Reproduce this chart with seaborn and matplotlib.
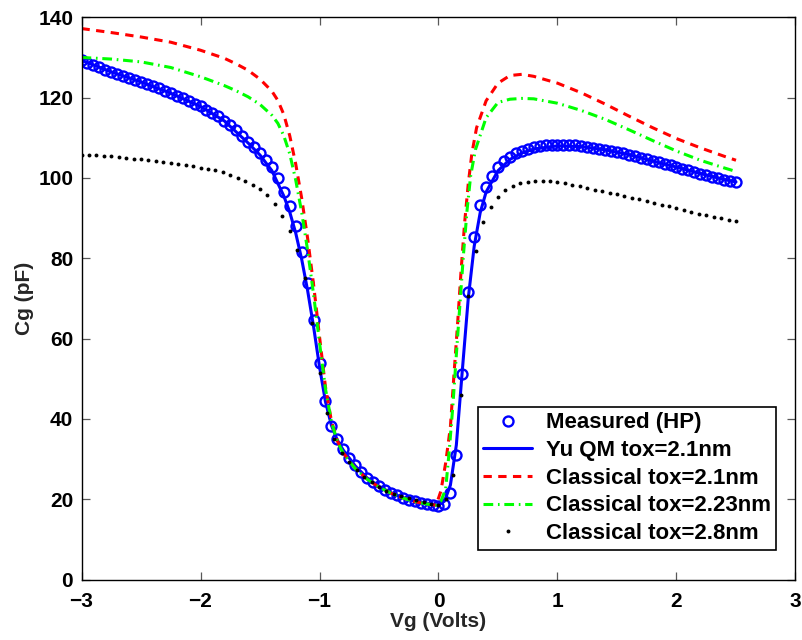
import numpy as np
import pandas as pd
import matplotlib
matplotlib.use("Agg")
import matplotlib.pyplot as plt
import seaborn as sns

# Gate voltage grid of the HP measurement (0.05 V steps from -3 V to 2.5 V)
measured_cg = [
    129.3, 128.7, 128.1, 127.5, 126.9, 126.4, 125.9, 125.4, 124.9, 124.4,
    123.9, 123.4, 122.9, 122.3, 121.7, 121.1, 120.5, 119.9, 119.2, 118.5,
    117.8, 117.0, 116.2, 115.3, 114.3, 113.2, 111.9, 110.5, 109.0, 107.6,
    106.1, 104.5, 102.6, 99.9, 96.6, 93.0, 88.0, 81.5, 73.8, 64.5,
    54.0, 44.4, 38.3, 35.0, 32.6, 30.3, 28.4, 26.8, 25.4, 24.2,
    23.2, 22.3, 21.6, 21.0, 20.4, 19.9, 19.5, 19.1, 18.8, 18.5,
    18.4, 18.8, 21.5, 31.0, 51.2, 71.6, 85.2, 93.2, 97.8, 100.6,
    102.6, 104.2, 105.3, 106.1, 106.7, 107.2, 107.6, 107.9, 108.1, 108.2,
    108.3, 108.3, 108.2, 108.1, 107.9, 107.7, 107.5, 107.3, 107.0, 106.7,
    106.4, 106.1, 105.8, 105.4, 105.0, 104.7, 104.3, 103.9, 103.5, 103.1,
    102.7, 102.3, 101.9, 101.5, 101.1, 100.7, 100.3, 99.9, 99.6, 99.3,
    99.1,
]
measured_vg = np.linspace(-3.0, 2.5, len(measured_cg))

# Yu quantum-mechanical model, tox = 2.1 nm
yu_vg = [-3.0, -2.75, -2.5, -2.25, -2.0, -1.8, -1.6, -1.5, -1.4, -1.3,
         -1.25, -1.2, -1.15, -1.1, -1.05, -1.0, -0.95, -0.9, -0.85, -0.8,
         -0.7, -0.6, -0.5, -0.4, -0.3, -0.2, -0.1, 0.0, 0.05, 0.1,
         0.15, 0.2, 0.25, 0.3, 0.35, 0.4, 0.5, 0.6, 0.7, 0.8,
         1.0, 1.2, 1.4, 1.6, 1.8, 2.0, 2.2, 2.4, 2.5]
yu_cg = [129.3, 126.4, 123.9, 121.1, 117.8, 114.2, 108.7, 105.7, 101.8, 95.5,
         91.5, 86.3, 79.8, 72.0, 63.0, 53.0, 44.3, 38.4, 34.7, 32.2,
         28.3, 25.3, 23.2, 21.6, 20.4, 19.5, 18.8, 18.5, 19.5, 23.5,
         33.5, 52.0, 70.0, 83.0, 91.3, 96.5, 101.8, 104.6, 106.2, 107.2,
         108.0, 107.8, 107.0, 105.8, 104.2, 102.7, 101.1, 99.6, 99.0]

# Classical model, tox = 2.1 nm
cl21_vg = [-3.0, -2.75, -2.5, -2.25, -2.0, -1.8, -1.7, -1.6, -1.5, -1.4,
           -1.35, -1.3, -1.25, -1.2, -1.15, -1.1, -1.05, -1.0, -0.95, -0.9,
           -0.85, -0.8, -0.7, -0.6, -0.5, -0.4, -0.3, -0.2, -0.1, -0.02,
           0.02, 0.06, 0.1, 0.13, 0.16, 0.19, 0.22, 0.25, 0.28, 0.32,
           0.4, 0.5, 0.6, 0.7, 0.8, 1.0, 1.2, 1.4, 1.6, 1.8,
           2.0, 2.2, 2.4, 2.5]
cl21_cg = [137.2, 136.2, 135.1, 133.8, 131.8, 129.8, 128.4, 126.8, 124.6, 121.6,
           119.3, 115.8, 110.5, 103.5, 95.0, 85.0, 73.5, 60.5, 48.0, 39.5,
           34.5, 31.5, 27.7, 25.0, 23.0, 21.5, 20.3, 19.4, 18.8, 18.5,
           22.0, 29.0, 38.0, 51.0, 63.5, 77.0, 89.0, 98.5, 106.0, 112.5,
           119.2, 123.6, 125.5, 125.8, 125.3, 123.6, 121.2, 118.4, 115.4, 112.5,
           109.8, 107.5, 105.4, 104.4]

# Classical model, tox = 2.23 nm
cl223_vg = [-3.0, -2.75, -2.5, -2.25, -2.0, -1.8, -1.7, -1.6, -1.5, -1.4,
            -1.35, -1.3, -1.25, -1.2, -1.15, -1.1, -1.05, -1.0, -0.95, -0.9,
            -0.85, -0.8, -0.7, -0.6, -0.5, -0.4, -0.3, -0.2, -0.1, -0.02,
            0.02, 0.06, 0.09, 0.12, 0.15, 0.18, 0.21, 0.24, 0.27, 0.31,
            0.4, 0.5, 0.6, 0.7, 0.8, 1.0, 1.2, 1.4, 1.6, 1.8,
            2.0, 2.2, 2.4, 2.5]
cl223_cg = [130.0, 129.6, 128.9, 127.5, 125.2, 123.0, 121.7, 120.2, 118.3, 115.6,
            113.6, 110.5, 106.0, 99.5, 91.5, 82.0, 71.0, 59.0, 47.5, 39.3,
            34.4, 31.4, 27.6, 25.0, 23.0, 21.5, 20.3, 19.4, 18.8, 18.5,
            19.5, 22.5, 32.0, 43.0, 56.0, 68.5, 81.0, 92.0, 100.5, 107.0,
            115.0, 118.8, 119.6, 119.8, 119.7, 118.6, 116.8, 114.6, 112.0, 109.3,
            106.7, 104.4, 102.5, 101.6]

# Classical model, tox = 2.8 nm (0.0625 V steps from -3 V to 2.5 V)
cl28_cg = [
    105.8, 105.7, 105.6, 105.5, 105.4, 105.2, 105.0, 104.8,
    104.6, 104.4, 104.2, 104.0, 103.8, 103.5, 103.2, 102.9,
    102.5, 102.2, 101.9, 101.5, 100.8, 100.1, 99.2, 98.3,
    97.2, 95.8, 93.5, 90.5, 86.8, 82.0, 75.0, 63.8,
    51.5, 41.5, 35.0, 31.6, 29.3, 27.2, 25.6, 24.2,
    23.0, 22.1, 21.4, 20.8, 20.2, 19.7, 19.2, 18.8,
    18.5, 20.0, 26.0, 46.0, 70.5, 81.8, 89.0, 92.8,
    95.3, 96.9, 98.0, 98.7, 99.1, 99.3, 99.3, 99.2,
    99.0, 98.7, 98.3, 97.9, 97.5, 97.1, 96.7, 96.3,
    95.9, 95.5, 95.1, 94.7, 94.2, 93.8, 93.3, 92.9,
    92.4, 92.0, 91.5, 91.1, 90.7, 90.3, 89.9, 89.5,
    89.2,
]
cl28_vg = np.linspace(-3.0, 2.5, len(cl28_cg))

labels = ["Measured (HP)", "Yu QM tox=2.1nm", "Classical tox=2.1nm",
          "Classical tox=2.23nm", "Classical tox=2.8nm"]
x_ticks = [-3, -2, -1, 0, 1, 2, 3]
y_ticks = [0, 20, 40, 60, 80, 100, 120, 140]

sns.set_theme(style="white")
plt.rcParams["font.family"] = ["Liberation Sans", "DejaVu Sans"]
plt.rcParams["font.weight"] = "bold"
plt.rcParams["lines.scale_dashes"] = False

fig = plt.figure(figsize=(8.02, 6.40), dpi=100)
ax = fig.add_axes([81.5 / 802, 1 - 579.5 / 640, (795.5 - 81.5) / 802, (579.5 - 17.3) / 640])

sns.lineplot(x=measured_vg, y=measured_cg, ax=ax, sort=False, estimator=None,
             linestyle="none", marker="o", markersize=7.2,
             markerfacecolor="none", mec=(0, 0, 1), mew=1.7,
             color=(0, 0, 1), label=labels[0])
sns.lineplot(x=yu_vg, y=yu_cg, ax=ax, sort=False, estimator=None,
             color=(0, 0, 1), linewidth=2.2, label=labels[1])
sns.lineplot(x=cl21_vg, y=cl21_cg, ax=ax, sort=False, estimator=None,
             color=(1, 0, 0), linewidth=2.2, linestyle=(0, (6.0, 4.6)),
             label=labels[2])
sns.lineplot(x=cl223_vg, y=cl223_cg, ax=ax, sort=False, estimator=None,
             color=(0, 1, 0), linewidth=2.2,
             linestyle=(0, (7.0, 3.4, 1.2, 3.4)), label=labels[3])
sns.lineplot(x=cl28_vg, y=cl28_cg, ax=ax, sort=False, estimator=None,
             color="black", linestyle="none", marker="o", markersize=2.8,
             mec="black", mew=0.0, label=labels[4])

ax.set_xlim(-3, 3)
ax.set_ylim(0, 140)
ax.set_xticks(x_ticks)
ax.set_yticks(y_ticks)
ax.set_xticklabels([("\u2212" + str(-t)) if t < 0 else str(t) for t in x_ticks])
ax.set_yticklabels([str(t) for t in y_ticks])

for side in ["left", "right", "top", "bottom"]:
    ax.spines[side].set_visible(True)
    ax.spines[side].set_color("black")
    ax.spines[side].set_linewidth(1.0)

ax.tick_params(axis="both", which="major", direction="in", length=5.5, width=0.9,
               color="0.35", labelsize=15, labelcolor="black",
               top=True, right=True, bottom=True, left=True)
ax.tick_params(axis="x", pad=9)
ax.tick_params(axis="y", pad=6)
for lab in ax.get_xticklabels() + ax.get_yticklabels():
    lab.set_fontweight("bold")

ax.set_xlabel("Vg (Volts)", fontsize=15, fontweight="bold", labelpad=1)
ax.set_ylabel("Cg (pF)", fontsize=15, fontweight="bold", labelpad=3)

handles, _ = ax.get_legend_handles_labels()
leg = ax.legend(handles, labels, loc="lower right",
                bbox_to_anchor=(0.973, 0.053), bbox_transform=ax.transAxes,
                borderaxespad=0.0, fancybox=False, frameon=True, framealpha=1.0,
                edgecolor="black", facecolor="white",
                prop={"size": 16, "weight": "bold"},
                handlelength=2.2, handletextpad=0.6, labelspacing=0.3,
                borderpad=0.25, numpoints=1)
leg.get_frame().set_linewidth(1.2)
for t in leg.get_texts():
    t.set_color("black")

fig.savefig("out.png", dpi=100, facecolor="white")
